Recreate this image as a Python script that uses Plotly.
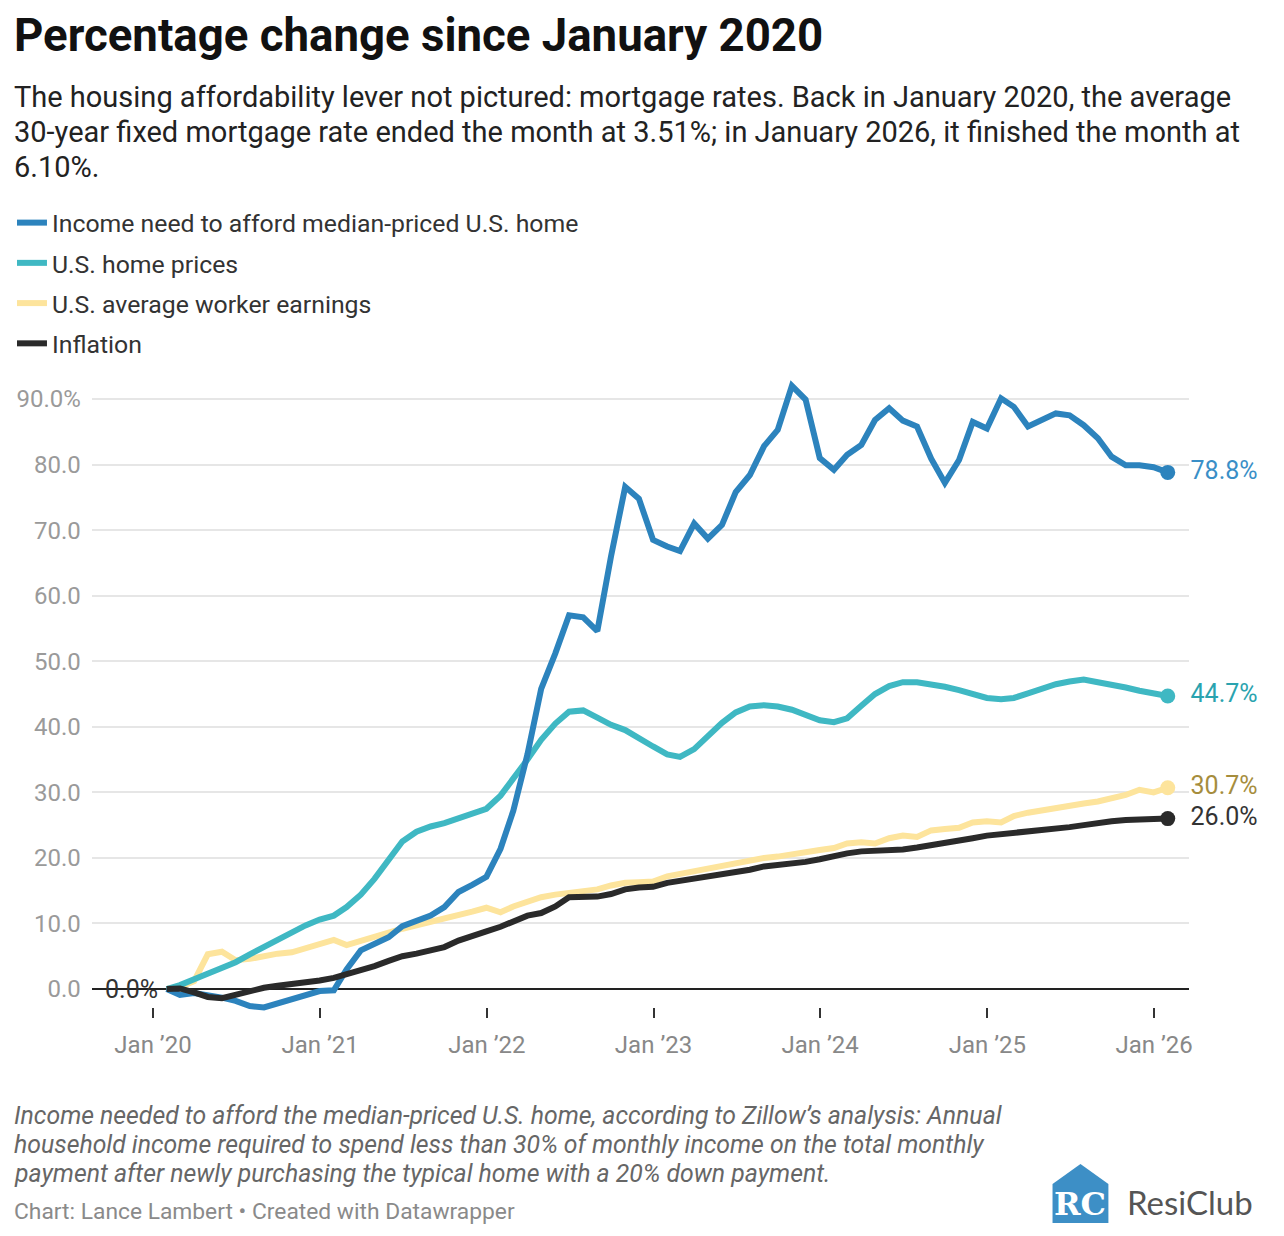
import plotly.graph_objects as go
import pandas as pd

W, H = 1284, 1236


def px(x):
    return x / W


def py(y):
    return 1 - y / H


# ---------------- data (monthly, Jan 2020 -> Jan 2026) ----------------
dates = pd.date_range("2020-01-31", periods=73, freq=pd.offsets.MonthEnd())

income_needed = [
    0, -0.9, -0.6, -0.9, -1.3, -1.8, -2.6, -2.8, -2.2, -1.4, -0.8, -0.3,
    -0.2, 3.0, 5.9, 7.0, 7.9, 9.6, 10.3, 11.2, 12.5, 14.8, 15.9, 17.1,
    21.4, 27.2, 35.8, 45.8, 51.2, 57.0, 56.7, 54.6, 66.0, 76.6, 74.8, 68.5,
    67.5, 66.8, 71.0, 68.7, 70.8, 75.8, 78.4, 82.8, 85.3, 92.0, 89.9, 81.0,
    79.2, 81.5, 83.0, 86.8, 88.6, 86.7, 85.8, 80.9, 77.2, 80.7, 86.5, 85.5,
    90.1, 88.8, 85.8, 86.8, 87.8, 87.5, 86.0, 84.0, 81.2, 79.9, 79.9, 79.6,
    78.8,
]

home_prices = [
    0, 0.6, 1.5, 2.3, 3.1, 4.1, 5.3, 6.4, 7.7, 8.7, 9.7, 10.6,
    11.2, 12.5, 14.4, 16.8, 19.7, 22.5, 24.0, 24.8, 25.3, 26.0, 26.9, 27.5,
    29.5, 32.0, 35.0, 38.0, 40.5, 42.3, 42.5, 41.4, 40.3, 39.5, 38.2, 37.0,
    35.8, 35.4, 36.6, 38.6, 40.6, 42.2, 43.1, 43.3, 43.1, 42.6, 41.7, 41.0,
    40.7, 41.3, 43.2, 45.0, 46.2, 46.8, 46.8, 46.5, 46.1, 45.6, 44.9, 44.4,
    44.2, 44.4, 45.1, 45.9, 46.5, 46.9, 47.2, 46.8, 46.5, 46.0, 45.5, 45.0,
    44.7,
]

worker_earnings = [
    0, 0.3, 1.2, 5.3, 5.7, 4.4, 4.6, 5.1, 5.4, 5.6, 6.2, 7.0,
    7.5, 6.7, 7.4, 8.0, 8.6, 9.2, 9.7, 10.3, 10.8, 11.2, 11.8, 12.4,
    11.7, 12.6, 13.4, 14.0, 14.4, 14.7, 14.9, 15.2, 15.8, 16.2, 16.3, 16.4,
    17.2, 17.6, 18.0, 18.3, 18.8, 19.2, 19.6, 20.0, 20.2, 20.6, 21.0, 21.2,
    21.5, 22.2, 22.4, 22.2, 23.0, 23.4, 23.2, 24.2, 24.4, 24.6, 25.4, 25.6,
    25.4, 26.4, 26.9, 27.3, 27.6, 27.9, 28.3, 28.6, 29.0, 29.6, 30.4, 30.0,
    30.7,
]

inflation = [
    0, 0.1, -0.5, -1.2, -1.4, -0.9, -0.2, 0.2, 0.5, 0.7, 0.9, 1.3,
    1.7, 2.2, 2.8, 3.5, 4.3, 5.0, 5.4, 5.8, 6.4, 7.4, 8.2, 8.8,
    9.5, 10.4, 11.2, 11.6, 12.6, 14.0, 14.0, 14.1, 14.5, 15.2, 15.5, 15.6,
    16.2, 16.5, 16.9, 17.1, 17.4, 17.7, 18.2, 18.7, 18.9, 19.1, 19.4, 19.8,
    20.3, 20.7, 21.0, 21.1, 21.1, 21.3, 21.6, 21.9, 22.2, 22.6, 23.0, 23.4,
    23.6, 23.7, 23.9, 24.1, 24.4, 24.7, 25.0, 25.4, 25.6, 25.8, 25.9, 26.0,
    26.0,
]

series_names = [
    "Income need to afford median-priced U.S. home",
    "U.S. home prices",
    "U.S. average worker earnings",
    "Inflation",
]

y_tick_values = [0, 10, 20, 30, 40, 50, 60, 70, 80, 90]
y_tick_labels = ["0.0", "10.0", "20.0", "30.0", "40.0", "50.0", "60.0", "70.0", "80.0", "90.0%"]
x_tick_values = ["2020-01-01", "2021-01-01", "2022-01-01", "2023-01-01",
                 "2024-01-01", "2025-01-01", "2026-01-01"]
x_tick_labels = ["Jan ’20", "Jan ’21", "Jan ’22", "Jan ’23", "Jan ’24", "Jan ’25", "Jan ’26"]

title_text = "Percentage change since January 2020"
subtitle_lines = [
    "The housing affordability lever not pictured: mortgage rates. Back in January 2020, the average",
    "30-year fixed mortgage rate ended the month at 3.51%; in January 2026, it finished the month at",
    "6.10%.",
]
note_lines = [
    "Income needed to afford the median-priced U.S. home, according to Zillow’s analysis: Annual",
    "household income required to spend less than 30% of monthly income on the total monthly",
    "payment after newly purchasing the typical home with a 20% down payment.",
]
credit_text = "Chart: Lance Lambert • Created with Datawrapper"

# drawing order (bottom -> top), with legend rank
styles = [
    (series_names[2], worker_earnings, "#fde49c", "#a68d3d", 3),
    (series_names[1], home_prices, "#3fb8c3", "#2aa3af", 2),
    (series_names[0], income_needed, "#2c83bd", "#3a8fc7", 1),
    (series_names[3], inflation, "#2a2a2a", "#333333", 4),
]

FONT = "Roboto"
fig = go.Figure()

for name, vals, color, lab_color, rank in styles:
    fig.add_trace(go.Scatter(
        x=dates, y=vals, mode="lines", name=name,
        line=dict(color=color, width=6),
        legendgroup=name, legendrank=rank, hoverinfo="skip",
    ))

for name, vals, color, lab_color, rank in styles:
    fig.add_trace(go.Scatter(
        x=[dates[-1]], y=[vals[-1]], mode="markers+text",
        marker=dict(color=color, size=15),
        text=["  %.1f%%" % vals[-1]], textposition="middle right",
        textfont=dict(color=lab_color, size=25, family=FONT),
        showlegend=False, hoverinfo="skip", cliponaxis=False,
    ))

annotations = [
    dict(x=px(12), y=py(35), xref="paper", yref="paper", xanchor="left", yanchor="middle",
         text="<b>%s</b>" % title_text, showarrow=False,
         font=dict(size=45.6, color="#111111", family=FONT), align="left"),
]
for i, line in enumerate(subtitle_lines):
    annotations.append(dict(
        x=px(12), y=py(97 + 35 * i), xref="paper", yref="paper",
        xanchor="left", yanchor="middle", text=line, showarrow=False,
        font=dict(size=29, color="#222222", family=FONT)))
for i, line in enumerate(note_lines):
    annotations.append(dict(
        x=px(12), y=py(1115 + 29 * i), xref="paper", yref="paper",
        xanchor="left", yanchor="middle", text="<i>%s</i>" % line, showarrow=False,
        font=dict(size=24.8, color="#666666", family=FONT)))
annotations += [
    dict(x=px(12), y=py(1211), xref="paper", yref="paper", xanchor="left", yanchor="middle",
         text=credit_text, showarrow=False,
         font=dict(size=22.8, color="#8a8a8a", family=FONT)),
    dict(x=dates[0], y=income_needed[0], xref="x", yref="y", xanchor="right", yanchor="middle",
         xshift=-7, text="0.0%", showarrow=False,
         font=dict(size=25, color="#333333", family=FONT)),
    # logo
    dict(x=px(1083), y=py(1204), xref="paper", yref="paper", xanchor="center", yanchor="middle",
         text="<b>RC</b>", showarrow=False,
         font=dict(size=32, color="#ffffff", family="DejaVu Serif")),
    dict(x=px(1128), y=py(1202), xref="paper", yref="paper", xanchor="left", yanchor="middle",
         text="ResiClub", showarrow=False,
         font=dict(size=33, color="#555555", family="Lato")),
]

shapes = [
    dict(type="path", xref="paper", yref="paper",
         path="M %f,%f L %f,%f L %f,%f L %f,%f L %f,%f Z" % (
             px(1055), py(1184), px(1083), py(1164), px(1111), py(1184),
             px(1111), py(1223), px(1055), py(1223)),
         fillcolor="#3d8fc6", line=dict(width=0)),
]

fig.update_layout(
    width=W, height=H,
    margin=dict(l=0, r=0, t=0, b=0),
    paper_bgcolor="white", plot_bgcolor="white",
    font=dict(family=FONT),
    showlegend=True,
    legend=dict(x=px(12), y=py(200), xanchor="left", yanchor="top",
                font=dict(size=24.8, color="#333333", family=FONT),
                traceorder="grouped", tracegroupgap=5, itemwidth=30,
                bgcolor="rgba(0,0,0,0)"),
    xaxis=dict(type="date", domain=[px(92), px(1192)],
               range=["2019-08-20", "2026-03-19"],
               anchor="free", position=py(1007),
               tickvals=x_tick_values, ticktext=x_tick_labels,
               ticks="outside", ticklen=10, tickwidth=2, tickcolor="#333333",
               ticklabelstandoff=6,
               showgrid=False, zeroline=False, showline=False,
               tickfont=dict(size=24, color="#888888", family=FONT)),
    yaxis=dict(domain=[py(1012), py(366.2)], range=[-3.5, 95],
               tickvals=y_tick_values, ticktext=y_tick_labels,
               showgrid=True, gridcolor="#e6e6e6", gridwidth=1.5,
               zeroline=True, zerolinecolor="#222222", zerolinewidth=2,
               showline=False, ticks="", ticklabelstandoff=10,
               tickfont=dict(size=24, color="#9a9a9a", family=FONT)),
    annotations=annotations,
    shapes=shapes,
    hovermode=False,
)

fig.write_html("out.html", config={"displayModeBar": False},
               post_script="document.body.style.margin='0px';")
